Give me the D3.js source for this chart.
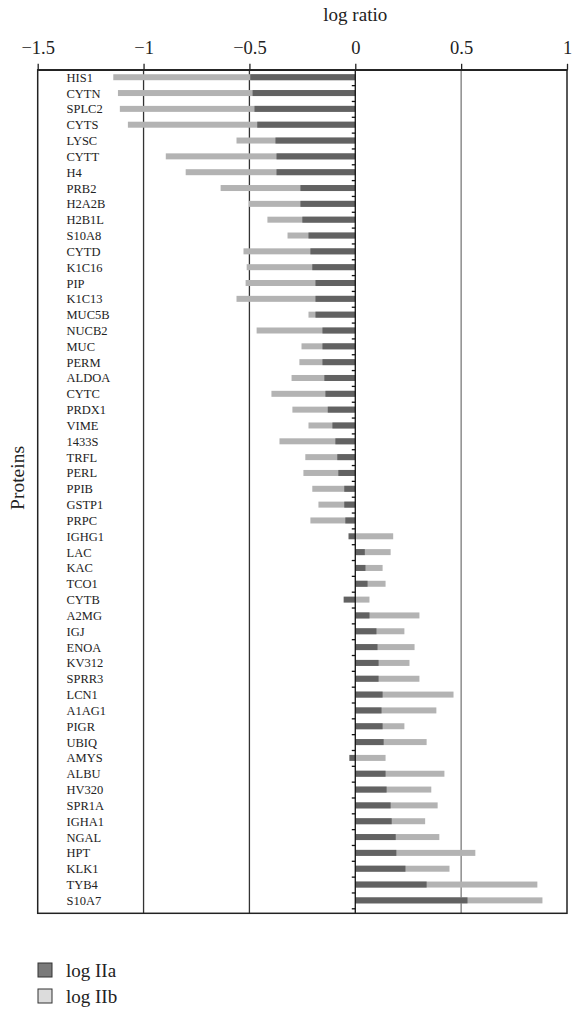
<html><head><meta charset="utf-8"><style>
  body { margin: 0; background: #fff; }
  svg text { font-family: "Liberation Serif", "DejaVu Serif", serif; fill: #222; }
</style>
</head><body>
<div id="chart"></div>
<script src="https://cdnjs.cloudflare.com/ajax/libs/d3/7.8.5/d3.min.js"></script>
<script>
const width = 572;
const height = 1009;

// proteins, top to bottom
const proteins = ["HIS1","CYTN","SPLC2","CYTS","LYSC","CYTT","H4","PRB2","H2A2B","H2B1L",
  "S10A8","CYTD","K1C16","PIP","K1C13","MUC5B","NUCB2","MUC","PERM","ALDOA",
  "CYTC","PRDX1","VIME","1433S","TRFL","PERL","PPIB","GSTP1","PRPC","IGHG1",
  "LAC","KAC","TCO1","CYTB","A2MG","IGJ","ENOA","KV312","SPRR3","LCN1",
  "A1AG1","PIGR","UBIQ","AMYS","ALBU","HV320","SPR1A","IGHA1","NGAL","HPT",
  "KLK1","TYB4","S10A7"];

const logIIa = [-0.496,-0.485,-0.476,-0.463,-0.377,-0.372,-0.372,-0.259,-0.259,-0.250,
  -0.221,-0.212,-0.203,-0.188,-0.188,-0.188,-0.155,-0.155,-0.155,-0.146,
  -0.141,-0.130,-0.108,-0.094,-0.085,-0.080,-0.052,-0.052,-0.047,-0.032,
  0.045,0.048,0.058,-0.055,0.067,0.100,0.105,0.110,0.110,0.129,
  0.124,0.129,0.134,-0.028,0.143,0.148,0.167,0.172,0.191,0.194,
  0.237,0.337,0.530];

const logIIb = [-1.143,-1.121,-1.112,-1.074,-0.561,-0.895,-0.801,-0.636,-0.502,-0.415,
  -0.320,-0.528,-0.513,-0.518,-0.561,-0.221,-0.466,-0.254,-0.264,-0.301,
  -0.396,-0.297,-0.221,-0.358,-0.236,-0.245,-0.203,-0.174,-0.212,0.179,
  0.167,0.129,0.143,0.067,0.303,0.232,0.280,0.256,0.303,0.464,
  0.383,0.232,0.337,0.143,0.421,0.359,0.389,0.330,0.397,0.567,
  0.445,0.860,0.884];

const xTicks = [-1.5, -1, -0.5, 0, 0.5, 1];
const gridDark = [-1, -0.5];
const gridLight = [0.5];
const seriesNames = ["log IIa", "log IIb"];

const plotTop = 69.8, step = 15.83;
const frameBottom = 913.3;

const svg = d3.select("#chart").append("svg")
  .attr("width", width).attr("height", height);

const x = d3.scaleLinear().domain([-1.5, 1]).range([37.7, 567]);
const y = d3.scaleBand().domain(proteins)
  .range([plotTop, plotTop + step * proteins.length]).paddingInner(0).paddingOuter(0);

const barH = 6;

// grid lines
svg.append("g").selectAll("line").data(gridDark).join("line")
  .attr("x1", d => x(d)).attr("x2", d => x(d))
  .attr("y1", plotTop).attr("y2", frameBottom)
  .attr("stroke", "#333").attr("stroke-width", 1.3);
svg.append("g").selectAll("line").data(gridLight).join("line")
  .attr("x1", d => x(d)).attr("x2", d => x(d))
  .attr("y1", plotTop).attr("y2", frameBottom)
  .attr("stroke", "#7a7a7a").attr("stroke-width", 1.3);

// bars: IIb behind, IIa on top
const rows = proteins.map((p, i) => ({ p, a: logIIa[i], b: logIIb[i] }));

svg.append("g").selectAll("rect").data(rows).join("rect")
  .attr("x", d => x(Math.min(0, d.b)))
  .attr("width", d => Math.abs(x(d.b) - x(0)))
  .attr("y", d => y(d.p) + y.bandwidth() / 2 - barH / 2 - 0.5)
  .attr("height", barH)
  .attr("fill", "#b3b3b3");

svg.append("g").selectAll("rect").data(rows).join("rect")
  .attr("x", d => x(Math.min(0, d.a)))
  .attr("width", d => Math.abs(x(d.a) - x(0)))
  .attr("y", d => y(d.p) + y.bandwidth() / 2 - barH / 2 - 0.5)
  .attr("height", barH)
  .attr("fill", "#626262");

// zero axis with small ticks between categories
svg.append("line")
  .attr("x1", x(0)).attr("x2", x(0))
  .attr("y1", plotTop).attr("y2", frameBottom)
  .attr("stroke", "#111").attr("stroke-width", 1.3);
svg.append("g").selectAll("line").data(proteins).join("line")
  .attr("x1", x(0) - 3.5).attr("x2", x(0))
  .attr("y1", d => y(d) + step).attr("y2", d => y(d) + step)
  .attr("stroke", "#111").attr("stroke-width", 1.3);

// frame
svg.append("rect")
  .attr("x", x(-1.5)).attr("y", plotTop)
  .attr("width", x(1) - x(-1.5)).attr("height", frameBottom - plotTop)
  .attr("fill", "none").attr("stroke", "#222").attr("stroke-width", 1.5);

// top axis
const xAxis = d3.axisTop(x).tickValues(xTicks).tickSize(6).tickSizeOuter(0).tickPadding(10)
  .tickFormat(d => String(d).replace("-", "\u2212"));
const ax = svg.append("g").attr("transform", `translate(0,${plotTop})`).call(xAxis);
ax.attr("font-family", null);
ax.select(".domain").attr("stroke", "#222").attr("stroke-width", 1.5);
ax.selectAll(".tick line").attr("stroke", "#222").attr("stroke-width", 1.3);
ax.selectAll(".tick text")
  .attr("font-size", 18.5).attr("fill", "#222");

svg.append("text")
  .attr("x", x(0)).attr("y", 21)
  .attr("text-anchor", "middle")
  .attr("font-size", 19)
  .text("log ratio");

// protein labels
svg.append("g").selectAll("text").data(proteins).join("text")
  .attr("x", 66.5)
  .attr("y", d => y(d) + y.bandwidth() / 2 + 4)
  .attr("font-size", 12.5)
  .text(d => d);

// y title
svg.append("text")
  .attr("transform", "translate(24,478) rotate(-90)")
  .attr("text-anchor", "middle")
  .attr("font-size", 19.5)
  .text("Proteins");

// legend
const legend = svg.append("g").selectAll("g").data(seriesNames).join("g")
  .attr("transform", (d, i) => `translate(38,${963 + i * 26})`);
legend.append("rect")
  .attr("width", 14).attr("height", 14)
  .attr("fill", (d, i) => i === 0 ? "#7a7a7a" : "#dcdcdc")
  .attr("stroke", "#333").attr("stroke-width", 1);
legend.append("text")
  .attr("x", 28).attr("y", 13.5)
  .attr("font-size", 19)
  .text(d => d);
</script>
</body></html>
